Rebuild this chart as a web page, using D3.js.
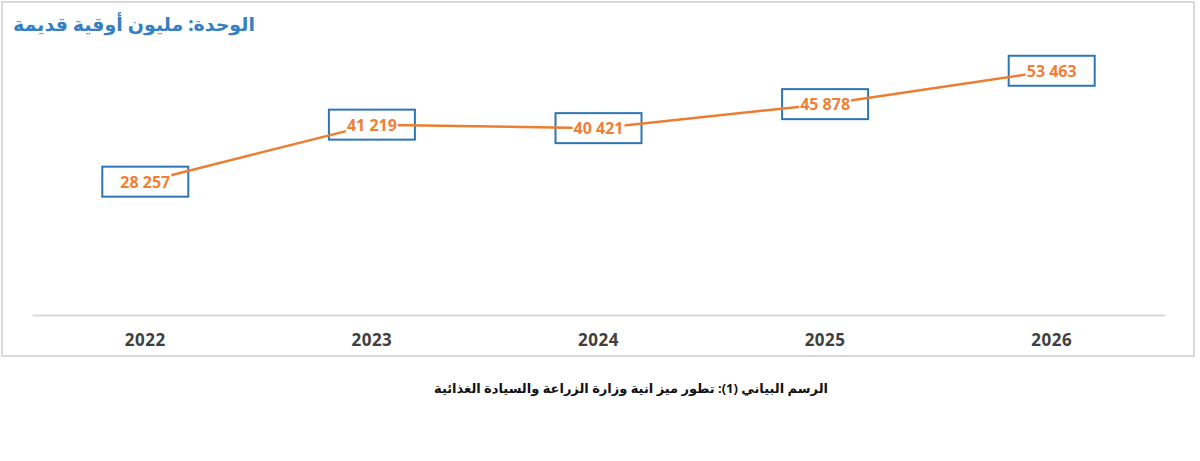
<!DOCTYPE html>
<html>
<head>
<meta charset="utf-8">
<title>Budget chart</title>
<script src="https://cdnjs.cloudflare.com/ajax/libs/d3/7.8.5/d3.min.js"></script>
<style>
  body { margin: 0; background: #fff; }
  text { font-family: "Noto Sans", "DejaVu Sans", sans-serif; }
</style>
</head>
<body>
<script>
// data
var years = ["2022", "2023", "2024", "2025", "2026"];
var values = [28257, 41219, 40421, 45878, 53463];
var labels = ["28 257", "41 219", "40 421", "45 878", "53 463"];
var unitTitle = "الوحدة: مليون أوقية قديمة";
var caption = "الرسم البياني (1): تطور ميز انية وزارة الزراعة والسيادة الغذائية";

var w = 1200, h = 461;
var plotLeft = 32, plotRight = 1165, axisY = 315;

var svg = d3.select("body").append("svg")
  .attr("width", w)
  .attr("height", h);

// chart frame
svg.append("rect")
  .attr("x", 2).attr("y", 2)
  .attr("width", 1192).attr("height", 354)
  .attr("fill", "#fff")
  .attr("stroke", "#d9d9d9")
  .attr("stroke-width", 2);

var x = d3.scaleBand().domain(years).range([plotLeft, plotRight]);
var y = d3.scaleLinear().domain([0, 60000]).range([306, 42]);

// category axis
var xAxis = svg.append("g")
  .attr("transform", "translate(0," + axisY + ")")
  .call(d3.axisBottom(x).tickSize(0).tickPadding(19));
xAxis.select(".domain").attr("stroke", "#d9d9d9").attr("stroke-width", 2);
xAxis.selectAll("text")
  .attr("fill", "#404040")
  .attr("font-size", 17)
  .attr("font-weight", "bold")
  .attr("letter-spacing", 0.5)
  .attr("font-family", "'Noto Sans', 'DejaVu Sans', sans-serif");

var cx = function(d, i) { return x(years[i]) + x.bandwidth() / 2; };

// label boxes
svg.selectAll(".box")
  .data(values)
  .enter().append("rect")
  .attr("class", "box")
  .attr("x", function(d, i) { return cx(d, i) - 43; })
  .attr("y", function(d) { return y(d) - 15; })
  .attr("width", 86)
  .attr("height", 30)
  .attr("fill", "#fff")
  .attr("stroke", "#2e75b6")
  .attr("stroke-width", 2);

// line
var line = d3.line()
  .x(function(d, i) { return cx(d, i); })
  .y(function(d) { return y(d); });

svg.append("path")
  .datum(values)
  .attr("d", line)
  .attr("fill", "none")
  .attr("stroke", "#ed7d31")
  .attr("stroke-width", 2.5);

// white pad behind label text
svg.selectAll(".pad")
  .data(values)
  .enter().append("rect")
  .attr("class", "pad")
  .attr("x", function(d, i) { return cx(d, i) - 26; })
  .attr("y", function(d) { return y(d) - 9; })
  .attr("width", 52)
  .attr("height", 18)
  .attr("fill", "#fff");

svg.selectAll(".lbl")
  .data(values)
  .enter().append("text")
  .attr("class", "lbl")
  .attr("x", function(d, i) { return cx(d, i); })
  .attr("y", function(d) { return y(d) + 6; })
  .attr("text-anchor", "middle")
  .attr("fill", "#ef8035")
  .attr("font-size", 16)
  .attr("font-weight", "bold")
  .text(function(d, i) { return labels[i]; });

// unit title
svg.append("text")
  .attr("x", 134)
  .attr("y", 31)
  .attr("text-anchor", "middle")
  .attr("fill", "#3580c2")
  .attr("font-size", 19)
  .attr("font-weight", "bold")
  .text(unitTitle);

// caption
svg.append("text")
  .attr("x", 631)
  .attr("y", 393)
  .attr("text-anchor", "middle")
  .attr("fill", "#111")
  .attr("font-size", 13)
  .attr("font-weight", "bold")
  .text(caption);
</script>
</body>
</html>
